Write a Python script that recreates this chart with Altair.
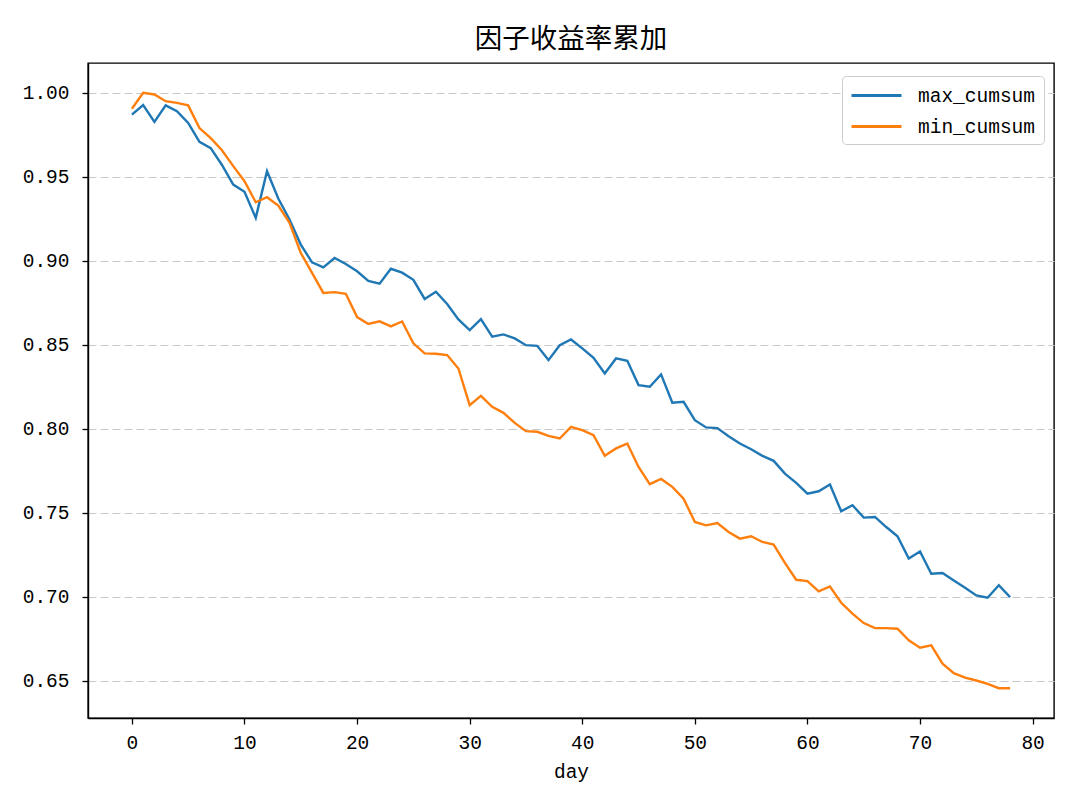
import altair as alt
import pandas as pd

days = list(range(79))

max_cumsum = [
    0.987, 0.9927, 0.9827, 0.9925, 0.989, 0.982, 0.9708, 0.967, 0.957, 0.9453,
    0.941, 0.9255, 0.9533, 0.937, 0.9245, 0.9096, 0.899, 0.896, 0.9016, 0.898,
    0.8937, 0.888, 0.8863, 0.8952, 0.8929, 0.8886, 0.8772, 0.8815, 0.8742, 0.865,
    0.8587, 0.8652, 0.8547, 0.8561, 0.8537, 0.8497, 0.8493, 0.8408, 0.8497, 0.8531,
    0.8478, 0.8422, 0.8329, 0.8418, 0.8404, 0.8259, 0.8249, 0.8323, 0.8154, 0.816,
    0.805, 0.8007, 0.8003, 0.7955, 0.7911, 0.7877, 0.7838, 0.7808, 0.7732, 0.7677,
    0.7613, 0.7627, 0.7667, 0.7508, 0.7544, 0.747, 0.7474, 0.7414, 0.7359, 0.7226,
    0.7269, 0.7136, 0.714, 0.7096, 0.7053, 0.7007, 0.6993, 0.7067, 0.6997,
]

min_cumsum = [
    0.9905, 1.000, 0.999, 0.995, 0.994, 0.9925, 0.979, 0.973, 0.9658, 0.9563,
    0.9473, 0.9348, 0.9378, 0.9328, 0.9225, 0.9046, 0.8927, 0.8808, 0.8813, 0.8803,
    0.8664, 0.8623, 0.8639, 0.8609, 0.8638, 0.8508, 0.8448, 0.8446, 0.8438, 0.8358,
    0.814, 0.8195, 0.813, 0.8094, 0.8034, 0.7985, 0.7981, 0.7957, 0.7941, 0.801,
    0.7991, 0.7961, 0.7838, 0.7882, 0.7911, 0.7772, 0.7669, 0.77, 0.7653, 0.7583,
    0.7444, 0.7424, 0.7438, 0.7384, 0.7345, 0.7359, 0.7325, 0.7309, 0.72, 0.71,
    0.7092, 0.7031, 0.706, 0.6963, 0.6898, 0.6842, 0.6812, 0.6812, 0.6808, 0.6739,
    0.6695, 0.6709, 0.66, 0.6544, 0.6517, 0.65, 0.648, 0.6454, 0.6454,
]

series_names = ["max_cumsum", "min_cumsum"]
series_colors = ["#1f77b4", "#ff7f0e"]
x_ticks = [0, 10, 20, 30, 40, 50, 60, 70, 80]
y_ticks = [0.65, 0.70, 0.75, 0.80, 0.85, 0.90, 0.95, 1.00]

rows = []
for d, v in zip(days, max_cumsum):
    rows.append({"day": d, "value": v, "series": "max_cumsum"})
for d, v in zip(days, min_cumsum):
    rows.append({"day": d, "value": v, "series": "min_cumsum"})
df = pd.DataFrame(rows)

all_vals = max_cumsum + min_cumsum
lo, hi = min(all_vals), max(all_vals)
ypad = (hi - lo) * 0.05
xpad = (max(days) - min(days)) * 0.05

label_font = "Liberation Mono, Noto Sans Mono CJK SC, DejaVu Sans Mono, monospace"
title_font = "Noto Sans CJK SC"
fs = 19.5

chart = (
    alt.Chart(df)
    .mark_line(strokeWidth=2.4)
    .encode(
        x=alt.X(
            "day:Q",
            scale=alt.Scale(domain=[min(days) - xpad, max(days) + xpad], nice=False, zero=False),
            axis=alt.Axis(
                values=x_ticks,
                format="d",
                grid=False,
                title="day",
                titleFont=label_font,
                titleFontSize=fs,
                titleFontWeight="normal",
                titleColor="black",
                titlePadding=11,
                labelFont=label_font,
                labelFontSize=fs,
                labelColor="black",
                labelPadding=9,
                tickColor="black",
                tickSize=6,
                tickWidth=1.3,
                domainColor="black",
                domainWidth=1.4,
            ),
        ),
        y=alt.Y(
            "value:Q",
            scale=alt.Scale(domain=[lo - ypad, hi + ypad], nice=False, zero=False),
            axis=alt.Axis(
                values=y_ticks,
                format=".2f",
                title="",
                grid=True,
                gridColor="#c8c8c8",
                gridDash=[8, 4],
                gridWidth=1.2,
                labelFont=label_font,
                labelFontSize=fs,
                labelColor="black",
                labelPadding=13,
                tickColor="black",
                tickSize=6,
                tickWidth=1.3,
                domainColor="black",
                domainWidth=1.4,
            ),
        ),
        color=alt.Color(
            "series:N",
            scale=alt.Scale(domain=series_names, range=series_colors),
            legend=alt.Legend(
                title=None,
                orient="none",
                legendX=754,
                legendY=13,
                padding=8,
                strokeColor="#cccccc",
                fillColor="white",
                cornerRadius=4,
                symbolType="M-1,0H4",
                symbolSize=400,
                symbolStrokeWidth=3,
                labelFont=label_font,
                labelFontSize=fs,
                labelColor="black",
                labelOffset=45,
                rowPadding=10,
            ),
        ),
    )
    .properties(
        width=966,
        height=655,
        background="white",
        title=alt.TitleParams(
            "因子收益率累加",
            font=title_font,
            fontSize=27.5,
            fontWeight="normal",
            color="black",
            anchor="middle",
            offset=10,
        ),
        autosize=alt.AutoSizeParams(type="none"),
        padding={"left": 80, "top": 55, "right": 18, "bottom": 84},
    )
    .configure_view(stroke="black", strokeWidth=1.4)
)

chart.save("out.html", embed_options={"renderer": "svg", "actions": False})
